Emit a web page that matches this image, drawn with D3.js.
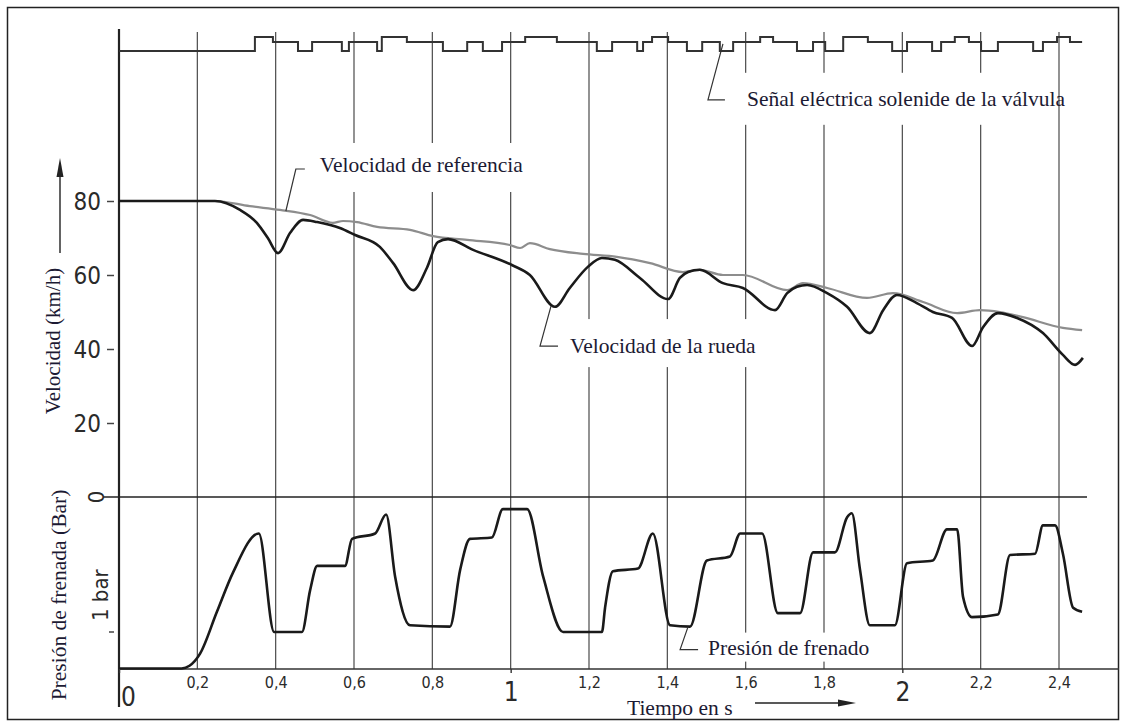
<!DOCTYPE html>
<html>
<head>
<meta charset="utf-8">
<script src="https://cdn.jsdelivr.net/npm/d3@7"></script>
<style>
  body { margin: 0; background: #fff; }
  svg { display: block; }
  .serif { font-family: "Liberation Serif", "Times New Roman", serif; fill: #1c1a33; }
  .din { font-family: "DejaVu Sans Condensed", "Liberation Sans Narrow", "DejaVu Sans", sans-serif; fill: #2a2a2a; }
</style>
</head>
<body>
<div id="chart"></div>
<script>
//DATA
const timeTicks = [0.2, 0.4, 0.6, 0.8, 1.0, 1.2, 1.4, 1.6, 1.8, 2.0, 2.2, 2.4];
const smallTimeTicks = [0.2, 0.4, 0.6, 0.8, 1.2, 1.4, 1.6, 1.8, 2.2, 2.4];
const bigTimeTicks = [0, 1, 2];
const speedTicks = [20, 40, 60, 80];
const pressureTicks = [0, 1];
const pressureTickLabels = ["0", "1 bar"];

// wheel speed (km/h)
const wheelT = [0, 0.245, 0.309, 0.352, 0.38, 0.406, 0.437, 0.47, 0.506, 0.564,
  0.603, 0.666, 0.7, 0.751, 0.786, 0.814, 0.84, 0.904, 1.003, 1.049,
  1.113, 1.151, 1.197, 1.233, 1.266, 1.33, 1.402, 1.432, 1.453, 1.483,
  1.542, 1.593, 1.675, 1.706, 1.731, 1.757, 1.808, 1.859, 1.917, 1.951,
  1.986, 2.037, 2.078, 2.127, 2.178, 2.206, 2.244, 2.293, 2.359, 2.41,
  2.441, 2.461];
const wheelV = [80, 80, 77.6, 74.1, 70.0, 65.9, 71.4, 74.9, 74.3, 72.7,
  70.8, 67.6, 63.2, 55.9, 61.9, 68.9, 69.7, 66.8, 62.7, 60.0,
  51.4, 56.5, 62.2, 64.6, 64.1, 59.2, 53.5, 59.2, 60.8, 61.4,
  57.8, 56.5, 50.5, 55.1, 56.8, 57.3, 55.1, 51.4, 44.3, 50.5,
  54.6, 52.4, 50.0, 48.4, 40.8, 45.9, 49.7, 48.4, 44.3, 38.4,
  35.7, 37.6];

// reference speed (km/h)
const refT = [0, 0.245, 0.334, 0.411, 0.488, 0.546, 0.572, 0.608, 0.659, 0.743,
  0.802, 0.889, 0.998, 1.024, 1.049, 1.1, 1.185, 1.271, 1.356, 1.44,
  1.483, 1.542, 1.593, 1.706, 1.746, 1.808, 1.91, 1.976, 2.053, 2.14,
  2.198, 2.249, 2.308, 2.41, 2.459];
const refV = [80, 80, 78.6, 77.6, 76.2, 74.1, 74.6, 74.3, 73.0, 72.2,
  70.5, 69.5, 68.1, 67.3, 68.6, 67.0, 65.7, 64.9, 63.2, 60.8,
  61.4, 60.0, 60.0, 55.9, 57.8, 56.5, 53.8, 55.1, 52.7, 49.7,
  50.5, 50.0, 48.6, 45.7, 45.1];

// brake pressure (axis runs 0 at top, "1 bar" below)
const pressT = [0, 0.16, 0.18, 0.207, 0.25, 0.291, 0.357, 0.396, 0.467, 0.488, 0.506,
  0.577, 0.595, 0.654, 0.682, 0.705, 0.743, 0.845, 0.871, 0.896, 0.952,
  0.98, 1.042, 1.083, 1.134, 1.233, 1.241, 1.261, 1.325, 1.363, 1.407,
  1.458, 1.501, 1.56, 1.586, 1.642, 1.682, 1.739, 1.772, 1.828, 1.859,
  1.871, 1.892, 1.917, 1.981, 2.012, 2.078, 2.114, 2.14, 2.155, 2.178,
  2.244, 2.275, 2.339, 2.359, 2.39, 2.41, 2.436, 2.459];
const pressP = [1.27, 1.27, 1.25, 1.16, 0.85, 0.56, 0.27, 1.0, 1.0, 0.69, 0.51,
  0.51, 0.31, 0.27, 0.13, 0.59, 0.95, 0.96, 0.54, 0.31, 0.30,
  0.09, 0.09, 0.59, 1.0, 1.0, 0.82, 0.55, 0.53, 0.27, 0.95,
  0.96, 0.47, 0.44, 0.27, 0.27, 0.86, 0.86, 0.41, 0.41, 0.15,
  0.12, 0.54, 0.95, 0.95, 0.49, 0.47, 0.24, 0.24, 0.74, 0.89,
  0.87, 0.43, 0.42, 0.21, 0.21, 0.42, 0.82, 0.85];

// valve solenoid signal: 0 = low, 1 = mid, 2 = high (level starting at each time)
const valveT = [0, 0.347, 0.393, 0.457, 0.493, 0.569, 0.587, 0.659, 0.671, 0.735,
  0.827, 0.889, 0.929, 0.978, 1.037, 1.118, 1.22, 1.259, 1.323, 1.338,
  1.361, 1.402, 1.45, 1.489, 1.534, 1.568, 1.637, 1.67, 1.731, 1.772,
  1.803, 1.849, 1.912, 1.974, 2.012, 2.076, 2.099, 2.134, 2.17, 2.201,
  2.244, 2.334, 2.359, 2.395, 2.428, 2.459];
const valveLevel = [0, 2, 1, 0, 1, 0, 1, 0, 2, 1,
  0, 1, 0, 1, 2, 1, 0, 1, 0, 1,
  2, 1, 0, 1, 0, 1, 2, 1, 0, 1,
  0, 2, 1, 0, 1, 0, 1, 2, 1, 0,
  1, 0, 1, 2, 1, 1];

//DIMENSIONS + SCALES
const WIDTH = 1126, HEIGHT = 728;
const AXIS_Y = 669;

const x = d3.scaleLinear().domain([0, 2.4]).range([119, 1059]);
const yV = d3.scaleLinear().domain([0, 80]).range([497, 201]);
const yP = d3.scaleLinear().domain([0, 1]).range([497, 632]);
const yS = d3.scaleLinear().domain([0, 1, 2]).range([51, 42, 37]);

const svg = d3.select("#chart").append("svg")
  .attr("width", WIDTH)
  .attr("height", HEIGHT);

//Frame
svg.append("rect")
  .attr("x", 7.5).attr("y", 7.5)
  .attr("width", 1111).attr("height", 712)
  .attr("fill", "none").attr("stroke", "#222").attr("stroke-width", 1.5);

//Vertical time lines
svg.append("g").selectAll("line")
  .data(timeTicks).join("line")
  .attr("x1", d => x(d)).attr("x2", d => x(d))
  .attr("y1", 32).attr("y2", AXIS_Y)
  .attr("stroke", "#4a4a4a").attr("stroke-width", 1.2);

// y axis line
svg.append("line")
  .attr("x1", x(0)).attr("x2", x(0))
  .attr("y1", 29).attr("y2", 707)
  .attr("stroke", "#222").attr("stroke-width", 2.2);

// zero line between both panels
svg.append("line")
  .attr("x1", 103).attr("x2", 1087)
  .attr("y1", yV(0)).attr("y2", yV(0))
  .attr("stroke", "#222").attr("stroke-width", 1.6);

// time axis line
svg.append("line")
  .attr("x1", x(0)).attr("x2", 1119)
  .attr("y1", AXIS_Y).attr("y2", AXIS_Y)
  .attr("stroke", "#333").attr("stroke-width", 1.4);

//Annotations (white label boxes cut the grid lines)
const notes = [
  { text: "Velocidad de referencia", at: [x(0.426), yV(77.3)], elbow: [10, -42], tail: 9, gap: 15, base: 3, box: [-5, -29, 220, 49] },
  { text: "Señal eléctrica solenide de la válvula", at: [x(1.542), yS(0.8)], elbow: [-15, 56], tail: 17, gap: 22, base: 6, box: [-7, -33, 305, 52] },
  { text: "Velocidad de la rueda", at: [x(1.103), yV(51.6)], elbow: [-11, 40], tail: 18, gap: 12, base: 7, box: [-7, -34, 207, 48] },
  { text: "Presión de frenado", at: [x(1.453), yP(0.96)], elbow: [-8, 23], tail: 18, gap: 10, base: 5, box: [-5, -22, 182, 29] }
];
notes.forEach(n => {
  n.ex = n.at[0] + n.elbow[0];
  n.ey = n.at[1] + n.elbow[1];
  n.tx = n.ex + n.tail + n.gap;
  n.ty = n.ey + n.base;
});

svg.append("g").selectAll("rect")
  .data(notes).join("rect")
  .attr("x", d => d.tx + d.box[0]).attr("y", d => d.ty + d.box[1])
  .attr("width", d => d.box[2]).attr("height", d => d.box[3])
  .attr("fill", "#fff");

//Curves
const valveData = valveT.map((t, i) => ({ t: t, v: valveLevel[i] }));
svg.append("path")
  .datum(valveData)
  .attr("d", d3.line().curve(d3.curveStepAfter).x(d => x(d.t)).y(d => yS(d.v)))
  .attr("fill", "none").attr("stroke", "#333").attr("stroke-width", 2);

const refData = refT.map((t, i) => ({ t: t, v: refV[i] }));
svg.append("path")
  .datum(refData)
  .attr("d", d3.line().curve(d3.curveMonotoneX).x(d => x(d.t)).y(d => yV(d.v)))
  .attr("fill", "none").attr("stroke", "#8d8d8d").attr("stroke-width", 2.2);

const wheelData = wheelT.map((t, i) => ({ t: t, v: wheelV[i] }));
svg.append("path")
  .datum(wheelData)
  .attr("d", d3.line().curve(d3.curveMonotoneX).x(d => x(d.t)).y(d => yV(d.v)))
  .attr("fill", "none").attr("stroke", "#1a1a1a").attr("stroke-width", 2.6);

const pressData = pressT.map((t, i) => ({ t: t, p: pressP[i] }));
svg.append("path")
  .datum(pressData)
  .attr("d", d3.line().curve(d3.curveMonotoneX).x(d => x(d.t)).y(d => yP(d.p)))
  .attr("fill", "none").attr("stroke", "#1a1a1a").attr("stroke-width", 2.6);

//Leader lines + annotation text
svg.append("g").selectAll("polyline")
  .data(notes).join("polyline")
  .attr("points", d => [d.at, [d.ex, d.ey], [d.ex + d.tail, d.ey]].join(" "))
  .attr("fill", "none").attr("stroke", "#333").attr("stroke-width", 1.2);

svg.append("g").selectAll("text")
  .data(notes).join("text")
  .attr("class", "serif")
  .attr("x", d => d.tx).attr("y", d => d.ty)
  .style("font-size", "21.5px")
  .text(d => d.text);

//Speed axis
const gV = svg.append("g")
  .attr("transform", `translate(${x(0) - 5},0)`)
  .call(d3.axisLeft(yV).tickValues(speedTicks).tickSize(7).tickPadding(6));
gV.attr("font-family", null).attr("font-size", null);
gV.select(".domain").remove();
gV.selectAll(".tick line").attr("stroke", "#444").attr("stroke-width", 1.5);
gV.selectAll(".tick text").attr("class", "din").style("font-size", "24px").attr("dy", "0.36em");

//Pressure axis (rotated labels)
const gP = svg.append("g");
gP.selectAll("line")
  .data(pressureTicks.slice(1)).join("line")
  .attr("x1", 109).attr("x2", 114)
  .attr("y1", d => yP(d)).attr("y2", d => yP(d))
  .attr("stroke", "#444").attr("stroke-width", 1.5);
gP.selectAll("text")
  .data(pressureTicks).join("text")
  .attr("class", "din")
  .attr("transform", (d, i) => i === 0
    ? `translate(96,${yP(d)}) rotate(-90)`
    : `translate(100,${yP(d) - 11}) rotate(-90)`)
  .attr("text-anchor", (d, i) => i === 0 ? "middle" : "start")
  .attr("dy", "0.36em")
  .style("font-size", "22px")
  .text((d, i) => pressureTickLabels[i]);

//Time axis
const gT = svg.append("g")
  .attr("transform", `translate(0,${AXIS_Y})`)
  .call(d3.axisBottom(x).tickValues(smallTimeTicks).tickSize(0).tickPadding(8)
    .tickFormat(d => d3.format(".1f")(d).replace(".", ",")));
gT.attr("font-family", null).attr("font-size", null);
gT.select(".domain").remove();
gT.selectAll(".tick text").attr("class", "din").style("font-size", "16px");

const gT2 = svg.append("g")
  .attr("transform", `translate(0,${AXIS_Y})`)
  .call(d3.axisBottom(x).tickValues(bigTimeTicks).tickSize(4).tickPadding(10)
    .tickFormat(d3.format("d")));
gT2.attr("font-family", null).attr("font-size", null);
gT2.select(".domain").remove();
gT2.selectAll(".tick line").attr("stroke", "#333").attr("stroke-width", 1.4);
gT2.selectAll(".tick text").attr("class", "din").style("font-size", "26px")
  .attr("dx", d => d === 0 ? 9 : 0)
  .attr("y", d => d === 0 ? 19 : 14);

//Axis titles + arrows
svg.append("text")
  .attr("class", "serif")
  .attr("transform", "translate(53,341) rotate(-90)")
  .attr("text-anchor", "middle").attr("dy", "0.35em")
  .style("font-size", "21px")
  .text("Velocidad (km/h)");

svg.append("text")
  .attr("class", "serif")
  .attr("transform", "translate(58,595) rotate(-90)")
  .attr("text-anchor", "middle").attr("dy", "0.35em")
  .style("font-size", "21.5px")
  .text("Presión de frenada (Bar)");

svg.append("text")
  .attr("class", "serif")
  .attr("x", 627).attr("y", 715)
  .style("font-size", "21.5px")
  .text("Tiempo en s");

// speed arrow
svg.append("line")
  .attr("x1", 60).attr("x2", 60).attr("y1", 253).attr("y2", 172)
  .attr("stroke", "#222").attr("stroke-width", 1.4);
svg.append("path")
  .attr("d", "M60,158 L56.5,177 L63.5,177 Z")
  .attr("fill", "#222");

// time arrow
svg.append("line")
  .attr("x1", 755).attr("x2", 840).attr("y1", 703).attr("y2", 703)
  .attr("stroke", "#222").attr("stroke-width", 1.4);
svg.append("path")
  .attr("d", "M856,703 L838,699.5 L838,706.5 Z")
  .attr("fill", "#222");
</script>
</body>
</html>
